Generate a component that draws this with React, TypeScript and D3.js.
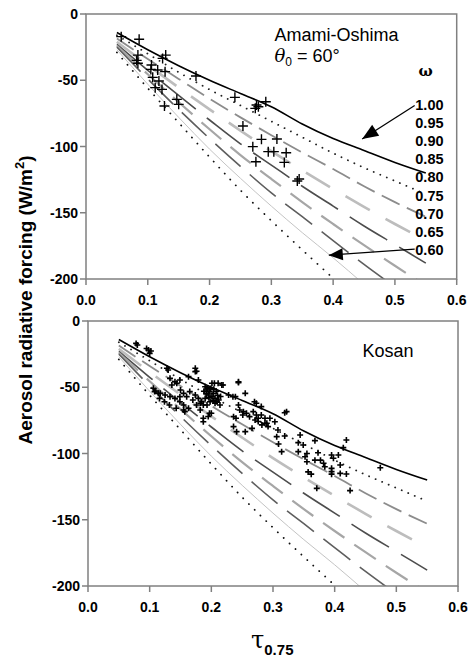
import React from "react";
import * as d3 from "d3";

// optical depth grid for the model curves
const tauGrid = [0.05, 0.1, 0.15, 0.2, 0.25, 0.3, 0.35, 0.4, 0.45, 0.5, 0.55];
const omegaLabels = ["1.00", "0.95", "0.90", "0.85", "0.80", "0.75", "0.70", "0.65", "0.60"];

// model forcing (W/m2) for each single scattering albedo
const forcing100 = [-14, -27, -39, -50, -60, -70, -83, -94, -103, -112, -120];
const forcing095 = [-16, -30, -44, -57, -69, -81, -93, -105, -116, -126, -136];
const forcing090 = [-18.5, -34, -49, -64, -78, -91.5, -104.5, -117, -130, -142, -153];
const forcing085 = [-21, -38.5, -55.5, -72, -88, -103.5, -118, -132, -145.5, -158.5, -171];
const forcing080 = [-23, -42.5, -61.5, -80, -98, -114, -130, -145, -160, -174, -188];
const forcing075 = [-24, -45.5, -66.5, -87, -106.5, -124.5, -142, -158.5, -174.5, -190, -205];
const forcing070 = [-25, -49, -72, -94, -115, -135, -153, -171, -189, -206, null];
const forcing065 = [-27, -53, -78, -102, -124, -145, -165, -184, -204, null, null];
const forcing060 = [-29, -56, -82, -108, -133, -156, -178, -199.5, -221, null, null];

const modelCurves = [
  forcing100, forcing095, forcing090, forcing085, forcing080,
  forcing075, forcing070, forcing065, forcing060,
];

const xTicks = [0, 0.1, 0.2, 0.3, 0.4, 0.5, 0.6];
const yTicks = [0, -50, -100, -150, -200];

// observations [tau, forcing]
const amamiPoints: [number, number][] = [
  [0.057, -17.1], [0.086, -19.1], [0.084, -31], [0.084, -37.2], [0.082, -35],
  [0.129, -31], [0.124, -33.5], [0.106, -38.5], [0.105, -41.8], [0.116, -42.3],
  [0.128, -43.5], [0.108, -47.8], [0.118, -50.6], [0.112, -55.6], [0.123, -56.9],
  [0.147, -64.4], [0.15, -68.2], [0.127, -69.4], [0.178, -46.8], [0.241, -62.9],
  [0.276, -68.7], [0.279, -70], [0.274, -71.2], [0.291, -66.2], [0.254, -84.5],
  [0.284, -94.6], [0.309, -94.3], [0.27, -100.1], [0.295, -103.9], [0.304, -103.9],
  [0.324, -104.7], [0.275, -111.5], [0.321, -112], [0.345, -124.5], [0.342, -126],
];

const kosanPoints: [number, number][] = [
  [0.078, -16.9], [0.08, -18.1], [0.095, -20.7], [0.098, -21.9], [0.102, -22.6], [0.1, -24.4],
  [0.128, -35.7], [0.13, -37], [0.174, -35.7], [0.176, -37.9], [0.174, -38.2], [0.163, -42],
  [0.149, -44.5], [0.144, -47], [0.136, -48.3], [0.133, -43.3], [0.141, -45.8],
  [0.106, -50.8], [0.108, -53.3], [0.11, -52.8], [0.114, -54.6], [0.116, -58.4], [0.117, -54.6],
  [0.124, -60.9], [0.125, -55.9], [0.132, -63.4], [0.133, -57.1], [0.141, -58.4], [0.143, -65.9],
  [0.149, -60.9], [0.15, -52.1], [0.155, -54.6], [0.155, -63.4], [0.157, -68.4], [0.16, -57.1],
  [0.163, -65.9], [0.165, -53.3], [0.17, -59.6], [0.174, -55.9], [0.176, -63.4], [0.179, -58.4],
  [0.182, -62.1], [0.182, -67.2], [0.184, -60.9], [0.187, -63.4], [0.187, -73.4], [0.187, -76],
  [0.193, -63.4], [0.195, -72.1], [0.197, -69.6], [0.2, -69.6], [0.155, -67.2], [0.149, -57.1],
  [0.179, -44.5], [0.19, -49.6], [0.192, -52.1], [0.197, -53.3], [0.203, -54.6], [0.195, -55.9],
  [0.201, -57.1], [0.206, -58.4], [0.19, -58.4], [0.212, -59.6], [0.198, -60.9], [0.206, -62.1],
  [0.214, -63.4], [0.201, -47], [0.205, -47], [0.211, -47], [0.217, -48.3], [0.219, -48.3],
  [0.194, -50.5], [0.199, -51], [0.204, -51.5], [0.208, -53], [0.21, -56], [0.196, -58],
  [0.203, -60], [0.209, -61], [0.215, -57], [0.192, -55], [0.188, -53],
  [0.228, -55.9], [0.235, -57.1], [0.244, -46.5], [0.244, -45.8], [0.255, -54.6], [0.239, -57.1],
  [0.244, -63.4], [0.246, -67.2], [0.236, -72.2], [0.24, -73.4], [0.236, -79.7], [0.241, -83.5],
  [0.251, -70.9], [0.252, -68.4], [0.257, -69.6], [0.262, -72.2], [0.255, -83.5], [0.266, -81],
  [0.268, -68.4], [0.27, -60.9], [0.273, -62.1], [0.271, -74.7], [0.273, -70.9],
  [0.276, -75.9], [0.276, -73.4], [0.281, -64.6], [0.281, -70.9], [0.282, -78.4], [0.287, -73.4],
  [0.287, -77.2], [0.29, -77.2], [0.292, -79.7], [0.295, -73.4], [0.303, -76], [0.308, -82.3],
  [0.306, -87.3], [0.309, -92.8], [0.314, -98.6], [0.319, -69.2], [0.322, -68.4],
  [0.319, -86.8], [0.341, -91.8], [0.344, -86], [0.349, -93.6], [0.341, -98.6],
  [0.352, -102.4], [0.355, -100], [0.355, -106.2], [0.357, -113.9], [0.362, -115.6],
  [0.368, -90.3], [0.368, -105], [0.371, -126.3], [0.373, -99.4], [0.377, -105], [0.382, -107.4],
  [0.384, -110], [0.395, -101.1], [0.398, -103.6], [0.406, -101.1], [0.409, -108.7], [0.395, -111.2],
  [0.395, -113.7], [0.395, -115.6], [0.409, -115], [0.419, -115.5], [0.425, -128], [0.419, -89.8],
  [0.414, -95.6], [0.474, -110.7],
];

// line look for each omega curve (same order as modelCurves)
const curveStyles = [
  { stroke: "#000", width: 1.6, dash: undefined, cap: "butt" },
  { stroke: "#222", width: 1.8, dash: "0.1 7", cap: "round" },
  { stroke: "#8c8c8c", width: 1.8, dash: "20 8", cap: "butt" },
  { stroke: "#bdbdbd", width: 2.6, dash: "28 18", cap: "butt" },
  { stroke: "#4d4d4d", width: 1.6, dash: "44 14", cap: "butt" },
  { stroke: "#a6a6a6", width: 2.2, dash: "26 12", cap: "butt" },
  { stroke: "#5e5e5e", width: 1.6, dash: "34 12", cap: "butt" },
  { stroke: "#c4c4c4", width: 1, dash: undefined, cap: "butt" },
  { stroke: "#111", width: 1.8, dash: "0.1 8", cap: "round" },
];

const FONT = "'Liberation Sans', Arial, sans-serif";

const arrowHead = (x1: number, y1: number, x2: number, y2: number, len: number, half: number) => {
  const dx = x2 - x1;
  const dy = y2 - y1;
  const d = Math.hypot(dx, dy);
  const ux = dx / d;
  const uy = dy / d;
  const bx = x2 - ux * len;
  const by = y2 - uy * len;
  return `${x2},${y2} ${bx - uy * half},${by + ux * half} ${bx + uy * half},${by - ux * half}`;
};

type PanelProps = {
  id: string;
  left: number;
  right: number;
  top: number;
  bottom: number;
  points: [number, number][];
  mark: number;
  markWidth: number;
  children?: (x: d3.ScaleLinear<number, number>, y: d3.ScaleLinear<number, number>) => React.ReactNode;
};

const Panel = ({ id, left, right, top, bottom, points, mark, markWidth, children }: PanelProps) => {
  const x = d3.scaleLinear().domain([0, 0.6]).range([left, right]);
  const y = d3.scaleLinear().domain([0, -200]).range([top, bottom]);
  const line = d3
    .line<number | null>()
    .defined((d) => d !== null)
    .x((_, i) => x(tauGrid[i]))
    .y((d) => y(d as number))
    .curve(d3.curveMonotoneX);
  const fmt = d3.format(".1f");

  return (
    <g>
      <defs>
        <clipPath id={id}>
          <rect x={left} y={top} width={right - left} height={bottom - top} />
        </clipPath>
      </defs>
      <g clipPath={`url(#${id})`}>
        {modelCurves.map((c, i) => {
          const s = curveStyles[i];
          return (
            <path
              key={i}
              d={line(c) || ""}
              fill="none"
              stroke={s.stroke}
              strokeWidth={s.width}
              strokeDasharray={s.dash}
              strokeLinecap={s.cap as any}
            />
          );
        })}
        {points.map(([t, v], i) => {
          const px = x(t);
          const py = y(v);
          return (
            <path
              key={i}
              d={`M${px - mark},${py}h${2 * mark}M${px},${py - mark}v${2 * mark}`}
              stroke="#000"
              strokeWidth={markWidth}
            />
          );
        })}
      </g>
      <rect x={left} y={top} width={right - left} height={bottom - top} fill="none" stroke="#808080" strokeWidth={1.5} />
      {xTicks.map((t) => (
        <g key={t}>
          <line x1={x(t)} x2={x(t)} y1={bottom} y2={bottom + 6} stroke="#808080" strokeWidth={1.5} />
          <text x={x(t)} y={bottom + 26} textAnchor="middle" fontFamily={FONT} fontWeight="bold" fontSize={14}>
            {fmt(t)}
          </text>
        </g>
      ))}
      {yTicks.map((v) => (
        <g key={v}>
          <line x1={left - 6} x2={left} y1={y(v)} y2={y(v)} stroke="#808080" strokeWidth={1.5} />
          <text x={left - 8} y={y(v) + 5} textAnchor="end" fontFamily={FONT} fontWeight="bold" fontSize={14}>
            {v}
          </text>
        </g>
      ))}
      {children && children(x, y)}
    </g>
  );
};

export default function App() {
  return (
    <svg
      width={469}
      height={668}
      style={{ position: "absolute", left: 0, top: 0, background: "#fff" }}
    >
      <Panel id="clipTop" left={86} right={456.7} top={14} bottom={279} points={amamiPoints} mark={5} markWidth={1.4}>
        {(x, y) => {
          const a1 = [x(0.532), y(-69), x(0.447), y(-94.3)];
          const a2 = [x(0.532), y(-177.5), x(0.393), y(-182)];
          return (
            <g>
              <text x={x(0.305)} y={y(-20)} fontFamily={FONT} fontSize={18}>
                Amami-Oshima
              </text>
              <text x={x(0.305)} y={y(-36)} fontFamily={FONT} fontSize={18}>
                <tspan fontFamily="'DejaVu Serif', serif" fontStyle="italic">θ</tspan>
                <tspan fontSize={12} dy={4}>0</tspan>
                <tspan dy={-4}> = 60°</tspan>
              </text>
              <text x={x(0.538)} y={y(-46.5)} fontFamily="'DejaVu Serif', serif" fontWeight="bold" fontSize={15}>
                ω
              </text>
              {omegaLabels.map((l, i) => (
                <text key={l} x={x(0.533)} y={110 + i * 18.1} fontFamily={FONT} fontWeight="bold" fontSize={14.5}>
                  {l}
                </text>
              ))}
              <line x1={a1[0]} y1={a1[1]} x2={a1[2]} y2={a1[3]} stroke="#000" strokeWidth={1.3} />
              <polygon points={arrowHead(a1[0], a1[1], a1[2], a1[3], 16, 6.5)} fill="#000" />
              <line x1={a2[0]} y1={a2[1]} x2={a2[2]} y2={a2[3]} stroke="#000" strokeWidth={1.3} />
              <polygon points={arrowHead(a2[0], a2[1], a2[2], a2[3], 14, 6)} fill="#000" />
            </g>
          );
        }}
      </Panel>
      <Panel id="clipBottom" left={88} right={458} top={321} bottom={586} points={kosanPoints} mark={3} markWidth={1.6}>
        {(x, y) => (
          <text x={x(0.445)} y={y(-27)} fontFamily={FONT} fontSize={18}>
            Kosan
          </text>
        )}
      </Panel>
      <text
        transform="translate(32,300) rotate(-90)"
        textAnchor="middle"
        fontFamily={FONT}
        fontWeight="bold"
        fontSize={19}
      >
        Aerosol radiative forcing (W/m<tspan fontSize={13} dy={-8}>2</tspan>
        <tspan dy={8}>)</tspan>
      </text>
      <text x={251} y={648} fontFamily={FONT}>
        <tspan fontFamily="'DejaVu Serif', 'Liberation Serif', serif" fontSize={24}>τ</tspan>
        <tspan fontWeight="bold" fontSize={15} dy={7}>0.75</tspan>
      </text>
    </svg>
  );
}
